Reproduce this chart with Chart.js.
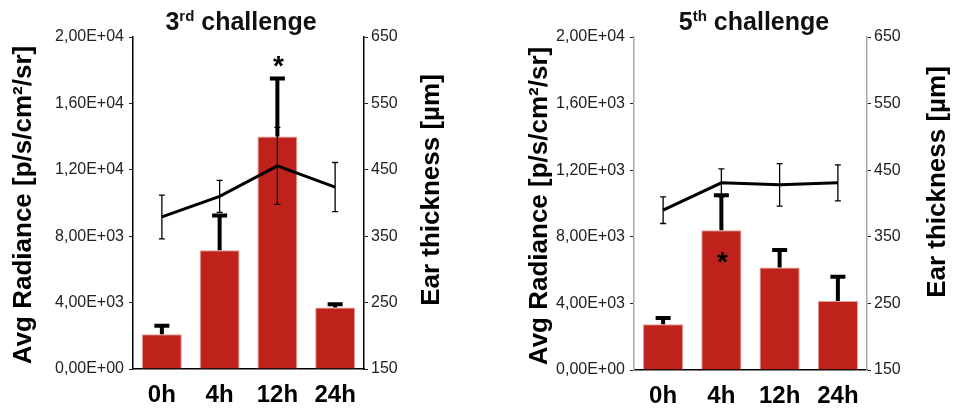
<!DOCTYPE html>
<html>
<head>
<meta charset="utf-8">
<script src="https://cdn.jsdelivr.net/npm/chart.js@4/dist/chart.umd.min.js"></script>
<style>
  body { margin: 0; background: #fff; width: 953px; height: 408px; overflow: hidden; }
  .panel { position: absolute; top: 0; height: 408px; }
  .title {
    position: absolute; top: 9px; left: 0; right: 0; text-align: center;
    font: bold 25px "Liberation Sans", Arial, sans-serif; line-height: 24px; color: #111;
  }
  .title sup { font-size: 15px; line-height: 0; vertical-align: 9px; }
</style>
</head>
<body>
<div class="panel" style="left:0;width:480px">
  <canvas id="chart3" width="480" height="408"></canvas>
  <div class="title" style="left:0;width:482px">3<sup>rd</sup> challenge</div>
</div>
<div class="panel" style="left:480px;width:473px">
  <canvas id="chart5" width="473" height="408"></canvas>
  <div class="title" style="left:0;width:548px">5<sup>th</sup> challenge</div>
</div>
<script>
document.addEventListener('DOMContentLoaded', function () {
    const FONT = '"Liberation Sans", Arial, sans-serif';

    // --- Data ---
    const categories = ['0h', '4h', '12h', '24h'];

    const radiance3 = [2100, 7150, 14000, 3700];
    const radianceErr3 = [500, 2100, 3500, 200];
    const thickness3 = [379, 410, 456, 424];
    const thicknessErr3 = [33, 24, 58, 37];
    const stars3 = ['', '', '*', ''];

    const radiance5 = [2750, 8400, 6150, 4150];
    const radianceErr5 = [370, 2100, 1050, 1450];
    const thickness5 = [390, 431, 428, 431];
    const thicknessErr5 = [20, 21, 32, 27];
    const stars5 = ['', '*', '', ''];

    const leftTicks3 = ['0,00E+00', '4,00E+03', '8,00E+03', '1,20E+04', '1,60E+04', '2,00E+04'];
    const leftTicks5 = ['0,00E+00', '4,00E+03', '8,00E+03', '1,20E+03', '1,60E+03', '2,00E+04'];
    const rightTicks = ['150', '250', '350', '450', '550', '650'];

    const leftTitle = 'Avg Radiance [p/s/cm\u00B2/sr]';
    const rightTitle = 'Ear thickness [\u00B5m]';

    // --- Plugins ---
    // error bars: bars get a thick upper whisker, line points a thin two-sided one
    const errorBars = {
        id: 'errorBars',
        afterDatasetDraw(chart, args) {
            const ds = chart.data.datasets[args.index];
            if (!ds.errors) return;
            const meta = args.meta;
            const ys = chart.scales[meta.yAxisID];
            const ctx = chart.ctx;
            ctx.save();
            ctx.strokeStyle = '#000';
            meta.data.forEach((el, i) => {
                const v = ds.data[i];
                const e = ds.errors[i];
                const top = ys.getPixelForValue(v + e);
                if (meta.type === 'bar') {
                    ctx.lineWidth = 4;
                    ctx.beginPath();
                    ctx.moveTo(el.x, el.y);
                    ctx.lineTo(el.x, top);
                    ctx.moveTo(el.x - 7.5, top);
                    ctx.lineTo(el.x + 7.5, top);
                    ctx.stroke();
                } else {
                    const bottom = ys.getPixelForValue(v - e);
                    ctx.lineWidth = 1.3;
                    ctx.beginPath();
                    ctx.moveTo(el.x, bottom);
                    ctx.lineTo(el.x, top);
                    ctx.moveTo(el.x - 3, top);
                    ctx.lineTo(el.x + 3, top);
                    ctx.moveTo(el.x - 3, bottom);
                    ctx.lineTo(el.x + 3, bottom);
                    ctx.stroke();
                }
            });
            ctx.restore();
        }
    };

    // rotated axis titles (both read bottom to top) and significance stars
    const decorations = {
        id: 'decorations',
        afterDraw(chart, args, opts) {
            const ctx = chart.ctx;
            const area = chart.chartArea;
            ctx.save();
            ctx.fillStyle = '#000';
            ctx.font = 'bold 26px ' + FONT;
            ctx.textAlign = 'center';
            ctx.textBaseline = 'middle';
            [[area.left - opts.leftGap, opts.leftY, leftTitle],
             [area.right + opts.rightGap, opts.rightY, rightTitle]].forEach(([x, y, t]) => {
                ctx.save();
                ctx.translate(x, y);
                ctx.rotate(-Math.PI / 2);
                ctx.fillText(t, 0, 0);
                ctx.restore();
            });

            const bars = chart.data.datasets[0];
            const meta = chart.getDatasetMeta(0);
            const ys = chart.scales.y;
            ctx.textBaseline = 'alphabetic';
            ctx.font = 'bold 28px ' + FONT;
            opts.stars.forEach((s, i) => {
                if (!s) return;
                const el = meta.data[i];
                const y = opts.starInside
                    ? el.y + 41
                    : ys.getPixelForValue(bars.data[i] + bars.errors[i]) - 4;
                ctx.fillText(s, el.x + 1, y);
            });
            ctx.restore();
        }
    };

    function makeChart(id, cfg) {
        return new Chart(document.getElementById(id), {
            type: 'bar',
            data: {
                labels: categories,
                datasets: [{
                    type: 'bar',
                    data: cfg.radiance,
                    errors: cfg.radianceErr,
                    yAxisID: 'y',
                    backgroundColor: '#bf221b',
                    borderColor: '#e39a96',
                    borderWidth: 1,
                    barPercentage: 0.69,
                    categoryPercentage: 1,
                    order: 2
                }, {
                    type: 'line',
                    data: cfg.thickness,
                    errors: cfg.thicknessErr,
                    yAxisID: 'y2',
                    borderColor: '#000',
                    borderWidth: 3,
                    pointRadius: 0,
                    tension: 0,
                    order: 1
                }]
            },
            options: {
                responsive: false,
                animation: false,
                layout: { padding: { top: 37, left: 0, right: 0, bottom: 0 } },
                plugins: {
                    legend: { display: false },
                    tooltip: { enabled: false },
                    decorations: cfg.deco
                },
                scales: {
                    x: {
                        grid: { drawOnChartArea: false, drawTicks: false },
                        border: { color: '#000', width: 1.5 },
                        ticks: { color: '#000', padding: 12, font: { family: FONT, size: 24, weight: 'bold' } },
                        afterFit: s => { s.height = cfg.bottomH; }
                    },
                    y: {
                        position: 'left',
                        min: 0, max: 20000,
                        grid: { drawOnChartArea: false, tickLength: 4, color: '#222' },
                        border: { color: cfg.axisColor, width: 1.5 },
                        ticks: {
                            stepSize: 4000, color: '#222', padding: 5,
                            font: { family: FONT, size: 16 },
                            callback: (v, i) => cfg.leftTicks[i]
                        },
                        afterFit: s => { s.width = cfg.leftW; }
                    },
                    y2: {
                        position: 'right',
                        min: 150, max: 650,
                        grid: { drawOnChartArea: false, tickLength: 4, color: '#222' },
                        border: { color: cfg.axisColor, width: 1.5 },
                        ticks: {
                            stepSize: 100, color: '#222', padding: 3,
                            font: { family: FONT, size: 16 },
                            callback: (v, i) => rightTicks[i]
                        },
                        afterFit: s => { s.width = cfg.rightW; }
                    }
                }
            },
            plugins: [errorBars, decorations]
        });
    }

    makeChart('chart3', {
        radiance: radiance3, radianceErr: radianceErr3,
        thickness: thickness3, thicknessErr: thicknessErr3,
        leftTicks: leftTicks3, axisColor: '#000',
        leftW: 133, rightW: 116, bottomH: 39,
        deco: { leftGap: 109, leftY: 205, rightGap: 68, rightY: 190, stars: stars3, starInside: false }
    });

    makeChart('chart5', {
        radiance: radiance5, radianceErr: radianceErr5,
        thickness: thickness5, thicknessErr: thicknessErr5,
        leftTicks: leftTicks5, axisColor: '#aaa',
        leftW: 154, rightW: 86, bottomH: 38,
        deco: { leftGap: 94, leftY: 206, rightGap: 71, rightY: 182, stars: stars5, starInside: true }
    });
});
</script>
</body>
</html>
